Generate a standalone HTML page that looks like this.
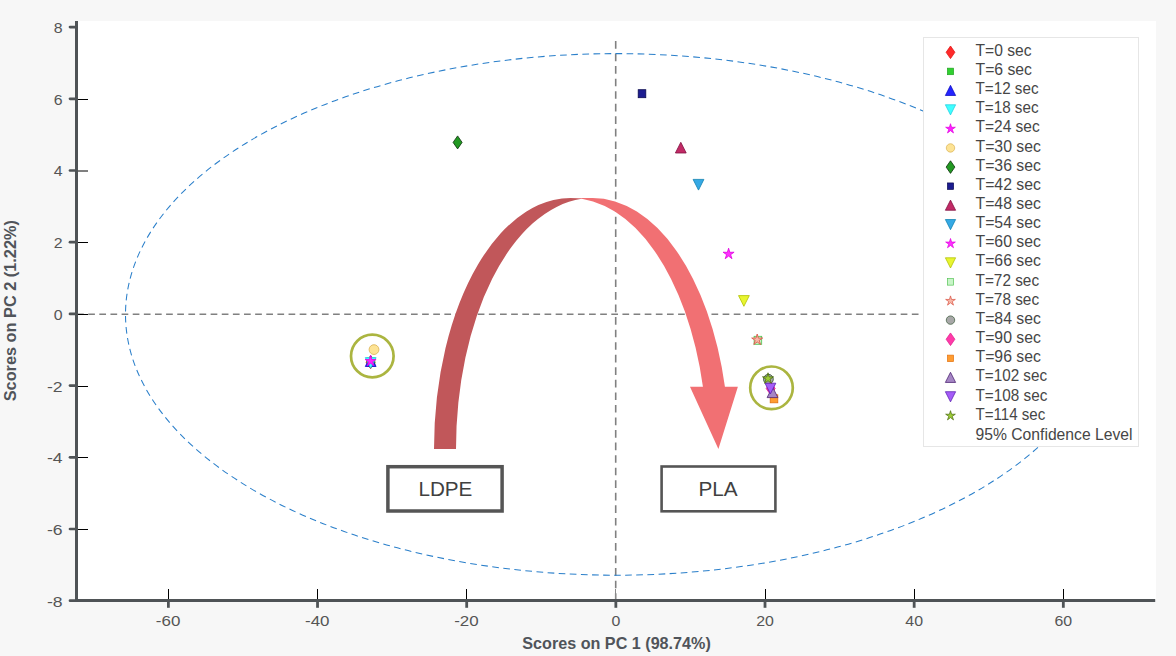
<!DOCTYPE html>
<html><head><meta charset="utf-8"><title>PCA scores</title>
<style>html,body{margin:0;padding:0;background:#f7f7f7;width:1176px;height:656px;overflow:hidden;font-family:"Liberation Sans",sans-serif}</style>
</head><body>
<svg width="1176" height="656" viewBox="0 0 1176 656" style="display:block;font-family:'Liberation Sans',sans-serif"><rect x="0" y="0" width="1176" height="656" fill="#f7f7f7"/>
<rect x="77" y="21" width="1079" height="579" fill="#ffffff"/>
<line x1="77.07" y1="314.2" x2="919" y2="314.2" stroke="#808080" stroke-width="1.6" stroke-dasharray="6.7 4.43"/>
<line x1="615.7" y1="41" x2="615.7" y2="600" stroke="#808080" stroke-width="1.6" stroke-dasharray="7.65 4.9"/>
<ellipse cx="616" cy="314.4" rx="490.5" ry="260.8" fill="none" stroke="#2a7fca" stroke-width="1.05" stroke-dasharray="6.7 4.42" stroke-dashoffset="1.5"/>
<polygon points="370.6,355.7 375.1,362.2 370.6,368.7 366.1,362.2" fill="#ff2a2a" stroke="#e01010" stroke-width="0.8"/>
<rect x="367.2" y="358" width="7.6" height="8" fill="#30d030" stroke="#20a020" stroke-width="0.8"/>
<polygon points="370.7,355.8 376.09999999999997,366.5 365.3,366.5" fill="#2424ff" stroke="#1010c0" stroke-width="0.8"/>
<polygon points="365.3,357.6 376.09999999999997,357.6 370.7,368.3" fill="#40ffff" stroke="#20d0e0" stroke-width="0.8"/>
<polygon points="370.60,355.40 371.83,359.50 376.12,359.41 372.60,361.85 374.01,365.89 370.60,363.30 367.19,365.89 368.60,361.85 365.08,359.41 369.37,359.50" fill="#ff20ff" stroke="#e000e0" stroke-width="0.8"/>
<circle cx="374" cy="349.6" r="4.9" fill="#fde394" stroke="#d9b050" stroke-width="0.8"/>
<polygon points="457.6,135.9 462.1,142.4 457.6,148.9 453.1,142.4" fill="#229922" stroke="#0a300a" stroke-width="0.8"/>
<rect x="638.2" y="89.7" width="7.6" height="8" fill="#1c1c90" stroke="#0a0a50" stroke-width="0.8"/>
<polygon points="680.8,142.3 686.1999999999999,153.0 675.4,153.0" fill="#c22a66" stroke="#801040" stroke-width="0.8"/>
<polygon points="693.1,179.4 703.9,179.4 698.5,190.1" fill="#35a9e5" stroke="#1080b0" stroke-width="0.8"/>
<polygon points="728.60,248.20 729.83,252.30 734.12,252.21 730.60,254.65 732.01,258.69 728.60,256.10 725.19,258.69 726.60,254.65 723.08,252.21 727.37,252.30" fill="#ff30ff" stroke="#e000e0" stroke-width="0.8"/>
<polygon points="738.5,295.6 749.3,295.6 743.9,306.3" fill="#e8f530" stroke="#b0c000" stroke-width="0.8"/>
<rect x="754.1" y="336.3" width="7.6" height="8" fill="#c8f5c8" stroke="#50c050" stroke-width="0.8"/>
<polygon points="757.20,334.00 758.43,338.10 762.72,338.01 759.20,340.45 760.61,344.49 757.20,341.90 753.79,344.49 755.20,340.45 751.68,338.01 755.97,338.10" fill="#f8b8a8" stroke="#d85040" stroke-width="0.8"/>
<circle cx="768.4" cy="379.2" r="4.9" fill="#a8a8a8" stroke="#305030" stroke-width="0.8"/>
<polygon points="770.7,382.0 775.2,388.5 770.7,395.0 766.2,388.5" fill="#ff3aa8" stroke="#e02090" stroke-width="0.8"/>
<rect x="770.2" y="394.8" width="7.6" height="8" fill="#ff9c30" stroke="#e07010" stroke-width="0.8"/>
<polygon points="772.5,386.9 777.9,397.59999999999997 767.1,397.59999999999997" fill="#a586c4" stroke="#4a2070" stroke-width="0.8"/>
<polygon points="765.0,383.2 775.8,383.2 770.4,393.9" fill="#a55cf8" stroke="#5a20b0" stroke-width="0.8"/>
<polygon points="768.00,372.80 769.23,376.90 773.52,376.81 770.00,379.25 771.41,383.29 768.00,380.70 764.59,383.29 766.00,379.25 762.48,376.81 766.77,376.90" fill="#9ccc34" stroke="#4a6a10" stroke-width="0.8"/>
<circle cx="372.3" cy="356" r="21.3" fill="none" stroke="#abb540" stroke-width="2.7"/>
<circle cx="771.5" cy="387.8" r="21.3" fill="none" stroke="#abb540" stroke-width="2.7"/>
<path d="M718.40,449.0 L689.98,386.70 L702.93,386.70 A136.6,251.0 0 0 0 570.60,198.0 L592.60,198.0 A136.6,251.0 0 0 1 724.93,386.70 L737.88,386.70 Z" fill="#f17073"/>
<path d="M434.0,449.0 A136.6,251.0 0 0 1 581.60,198.82 A136.6,251.0 0 0 0 456.00,449.0 Z" fill="#c1575a"/>
<rect x="387.9" y="466.7" width="114.2" height="44.3" fill="#ffffff" stroke="#555555" stroke-width="3.5"/>
<text x="418.4" y="495.5" font-size="20.5" textLength="54" lengthAdjust="spacingAndGlyphs" fill="#404040">LDPE</text>
<rect x="661.6" y="466.5" width="113.8" height="44.8" fill="#ffffff" stroke="#555555" stroke-width="2.6"/>
<text x="698.4" y="495.6" font-size="20.5" textLength="39.2" lengthAdjust="spacingAndGlyphs" fill="#404040">PLA</text>
<rect x="75" y="21" width="3" height="581" fill="#4f5356"/>
<rect x="75" y="599" width="1080.2" height="3" fill="#4f5356"/>
<line x1="70" y1="600.70" x2="76" y2="600.70" stroke="#4f5356" stroke-width="2.7" stroke-linecap="round"/>
<text x="62.6" y="606.60" font-size="15.3" text-anchor="end" textLength="15.65" lengthAdjust="spacingAndGlyphs" fill="#555">-8</text>
<line x1="70" y1="529.00" x2="76" y2="529.00" stroke="#4f5356" stroke-width="2.7" stroke-linecap="round"/>
<line x1="78" y1="529.50" x2="88" y2="529.50" stroke="#000" stroke-width="1"/>
<text x="62.6" y="534.90" font-size="15.3" text-anchor="end" textLength="15.65" lengthAdjust="spacingAndGlyphs" fill="#555">-6</text>
<line x1="70" y1="457.30" x2="76" y2="457.30" stroke="#4f5356" stroke-width="2.7" stroke-linecap="round"/>
<line x1="78" y1="457.50" x2="88" y2="457.50" stroke="#000" stroke-width="1"/>
<text x="62.6" y="463.20" font-size="15.3" text-anchor="end" textLength="15.65" lengthAdjust="spacingAndGlyphs" fill="#555">-4</text>
<line x1="70" y1="385.60" x2="76" y2="385.60" stroke="#4f5356" stroke-width="2.7" stroke-linecap="round"/>
<line x1="78" y1="386.50" x2="88" y2="386.50" stroke="#000" stroke-width="1"/>
<text x="62.6" y="391.50" font-size="15.3" text-anchor="end" textLength="15.65" lengthAdjust="spacingAndGlyphs" fill="#555">-2</text>
<line x1="70" y1="313.90" x2="76" y2="313.90" stroke="#4f5356" stroke-width="2.7" stroke-linecap="round"/>
<line x1="78" y1="314.50" x2="88" y2="314.50" stroke="#000" stroke-width="1"/>
<text x="62.6" y="319.80" font-size="15.3" text-anchor="end" textLength="8.85" lengthAdjust="spacingAndGlyphs" fill="#555">0</text>
<line x1="70" y1="242.20" x2="76" y2="242.20" stroke="#4f5356" stroke-width="2.7" stroke-linecap="round"/>
<line x1="78" y1="242.50" x2="88" y2="242.50" stroke="#000" stroke-width="1"/>
<text x="62.6" y="248.10" font-size="15.3" text-anchor="end" textLength="8.85" lengthAdjust="spacingAndGlyphs" fill="#555">2</text>
<line x1="70" y1="170.50" x2="76" y2="170.50" stroke="#4f5356" stroke-width="2.7" stroke-linecap="round"/>
<line x1="78" y1="171.00" x2="88" y2="171.00" stroke="#000" stroke-width="1"/>
<text x="62.6" y="176.40" font-size="15.3" text-anchor="end" textLength="8.85" lengthAdjust="spacingAndGlyphs" fill="#555">4</text>
<line x1="70" y1="98.80" x2="76" y2="98.80" stroke="#4f5356" stroke-width="2.7" stroke-linecap="round"/>
<line x1="78" y1="99.50" x2="88" y2="99.50" stroke="#000" stroke-width="1"/>
<text x="62.6" y="104.70" font-size="15.3" text-anchor="end" textLength="8.85" lengthAdjust="spacingAndGlyphs" fill="#555">6</text>
<line x1="70" y1="27.10" x2="76" y2="27.10" stroke="#4f5356" stroke-width="2.7" stroke-linecap="round"/>
<text x="62.6" y="33.00" font-size="15.3" text-anchor="end" textLength="8.85" lengthAdjust="spacingAndGlyphs" fill="#555">8</text>
<line x1="168.37" y1="601" x2="168.37" y2="607.8" stroke="#4f5356" stroke-width="2.8"/>
<line x1="168.50" y1="589" x2="168.50" y2="599" stroke="#000" stroke-width="1"/>
<text x="168.07" y="626.2" font-size="15.3" text-anchor="middle" textLength="24.49" lengthAdjust="spacingAndGlyphs" fill="#555">-60</text>
<line x1="317.53" y1="601" x2="317.53" y2="607.8" stroke="#4f5356" stroke-width="2.8"/>
<line x1="317.50" y1="589" x2="317.50" y2="599" stroke="#000" stroke-width="1"/>
<text x="317.23" y="626.2" font-size="15.3" text-anchor="middle" textLength="24.49" lengthAdjust="spacingAndGlyphs" fill="#555">-40</text>
<line x1="466.69" y1="601" x2="466.69" y2="607.8" stroke="#4f5356" stroke-width="2.8"/>
<line x1="466.50" y1="589" x2="466.50" y2="599" stroke="#000" stroke-width="1"/>
<text x="466.39" y="626.2" font-size="15.3" text-anchor="middle" textLength="24.49" lengthAdjust="spacingAndGlyphs" fill="#555">-20</text>
<line x1="615.85" y1="601" x2="615.85" y2="607.8" stroke="#4f5356" stroke-width="2.8"/>
<line x1="615.50" y1="589" x2="615.50" y2="599" stroke="#8a8a8a" stroke-width="1"/>
<text x="615.85" y="626.2" font-size="15.3" text-anchor="middle" textLength="8.85" lengthAdjust="spacingAndGlyphs" fill="#555">0</text>
<line x1="765.01" y1="601" x2="765.01" y2="607.8" stroke="#4f5356" stroke-width="2.8"/>
<line x1="765.50" y1="589" x2="765.50" y2="599" stroke="#000" stroke-width="1"/>
<text x="765.01" y="626.2" font-size="15.3" text-anchor="middle" textLength="17.69" lengthAdjust="spacingAndGlyphs" fill="#555">20</text>
<line x1="914.17" y1="601" x2="914.17" y2="607.8" stroke="#4f5356" stroke-width="2.8"/>
<line x1="914.50" y1="589" x2="914.50" y2="599" stroke="#000" stroke-width="1"/>
<text x="914.17" y="626.2" font-size="15.3" text-anchor="middle" textLength="17.69" lengthAdjust="spacingAndGlyphs" fill="#555">40</text>
<line x1="1063.33" y1="601" x2="1063.33" y2="607.8" stroke="#4f5356" stroke-width="2.8"/>
<line x1="1063.50" y1="589" x2="1063.50" y2="599" stroke="#000" stroke-width="1"/>
<text x="1063.33" y="626.2" font-size="15.3" text-anchor="middle" textLength="17.69" lengthAdjust="spacingAndGlyphs" fill="#555">60</text>
<text x="522.3" y="649" font-size="16.5" font-weight="bold" textLength="188.5" lengthAdjust="spacingAndGlyphs" fill="#50545a">Scores on PC 1 (98.74%)</text>
<text transform="translate(16.4,401.3) rotate(-90)" font-size="16.5" font-weight="bold" textLength="181.2" lengthAdjust="spacingAndGlyphs" fill="#50545a">Scores on PC 2 (1.22%)</text>
<rect x="923.5" y="37.5" width="215" height="409" fill="#ffffff" stroke="#e6e6e6" stroke-width="1"/>
<g transform="translate(950.5,52.30) scale(0.97) translate(-950.5,-52.30)"><polygon points="950.5,45.8 955.0,52.3 950.5,58.8 946.0,52.3" fill="#ff2a2a" stroke="#e01010" stroke-width="0.8"/></g>
<text x="975.5" y="55.70" font-size="16.5" textLength="56.0" lengthAdjust="spacingAndGlyphs" fill="#464646">T=0 sec</text>
<g transform="translate(950.5,71.43) scale(0.82) translate(-950.5,-71.43)"><rect x="946.7" y="67.43" width="7.6" height="8" fill="#30d030" stroke="#20a020" stroke-width="0.8"/></g>
<text x="975.5" y="74.86" font-size="16.5" textLength="56.5" lengthAdjust="spacingAndGlyphs" fill="#464646">T=6 sec</text>
<g transform="translate(950.5,90.56) scale(0.95) translate(-950.5,-90.56)"><polygon points="950.5,85.06 955.9,95.76 945.1,95.76" fill="#2424ff" stroke="#1010c0" stroke-width="0.8"/></g>
<text x="975.5" y="94.02" font-size="16.5" textLength="63.0" lengthAdjust="spacingAndGlyphs" fill="#464646">T=12 sec</text>
<g transform="translate(950.5,109.69) scale(0.95) translate(-950.5,-109.69)"><polygon points="945.1,104.49 955.9,104.49 950.5,115.19" fill="#40ffff" stroke="#20d0e0" stroke-width="0.8"/></g>
<text x="975.5" y="113.18" font-size="16.5" textLength="63.0" lengthAdjust="spacingAndGlyphs" fill="#464646">T=18 sec</text>
<g transform="translate(950.5,128.82) scale(0.88) translate(-950.5,-128.82)"><polygon points="950.50,123.02 951.73,127.12 956.02,127.03 952.50,129.47 953.91,133.51 950.50,130.92 947.09,133.51 948.50,129.47 944.98,127.03 949.27,127.12" fill="#ff20ff" stroke="#e000e0" stroke-width="0.8"/></g>
<text x="975.5" y="132.34" font-size="16.5" textLength="64.2" lengthAdjust="spacingAndGlyphs" fill="#464646">T=24 sec</text>
<g transform="translate(950.5,147.95) scale(0.86) translate(-950.5,-147.95)"><circle cx="950.5" cy="147.95" r="4.9" fill="#fde394" stroke="#d9b050" stroke-width="0.8"/></g>
<text x="975.5" y="151.50" font-size="16.5" textLength="65.39999999999999" lengthAdjust="spacingAndGlyphs" fill="#464646">T=30 sec</text>
<g transform="translate(950.5,167.08) scale(0.97) translate(-950.5,-167.08)"><polygon points="950.5,160.58 955.0,167.08 950.5,173.58 946.0,167.08" fill="#229922" stroke="#0a300a" stroke-width="0.8"/></g>
<text x="975.5" y="170.66" font-size="16.5" textLength="65.39999999999999" lengthAdjust="spacingAndGlyphs" fill="#464646">T=36 sec</text>
<g transform="translate(950.5,186.21) scale(0.82) translate(-950.5,-186.21)"><rect x="946.7" y="182.21" width="7.6" height="8" fill="#1c1c90" stroke="#0a0a50" stroke-width="0.8"/></g>
<text x="975.5" y="189.82" font-size="16.5" textLength="65.39999999999999" lengthAdjust="spacingAndGlyphs" fill="#464646">T=42 sec</text>
<g transform="translate(950.5,205.34) scale(0.95) translate(-950.5,-205.34)"><polygon points="950.5,199.84 955.9,210.54 945.1,210.54" fill="#c22a66" stroke="#801040" stroke-width="0.8"/></g>
<text x="975.5" y="208.98" font-size="16.5" textLength="65.39999999999999" lengthAdjust="spacingAndGlyphs" fill="#464646">T=48 sec</text>
<g transform="translate(950.5,224.47) scale(0.95) translate(-950.5,-224.47)"><polygon points="945.1,219.27 955.9,219.27 950.5,229.97" fill="#35a9e5" stroke="#1080b0" stroke-width="0.8"/></g>
<text x="975.5" y="228.14" font-size="16.5" textLength="65.39999999999999" lengthAdjust="spacingAndGlyphs" fill="#464646">T=54 sec</text>
<g transform="translate(950.5,243.60) scale(0.88) translate(-950.5,-243.60)"><polygon points="950.50,237.80 951.73,241.90 956.02,241.81 952.50,244.25 953.91,248.29 950.50,245.70 947.09,248.29 948.50,244.25 944.98,241.81 949.27,241.90" fill="#ff30ff" stroke="#e000e0" stroke-width="0.8"/></g>
<text x="975.5" y="247.30" font-size="16.5" textLength="65.39999999999999" lengthAdjust="spacingAndGlyphs" fill="#464646">T=60 sec</text>
<g transform="translate(950.5,262.73) scale(0.95) translate(-950.5,-262.73)"><polygon points="945.1,257.53000000000003 955.9,257.53000000000003 950.5,268.23" fill="#e8f530" stroke="#b0c000" stroke-width="0.8"/></g>
<text x="975.5" y="266.46" font-size="16.5" textLength="65.39999999999999" lengthAdjust="spacingAndGlyphs" fill="#464646">T=66 sec</text>
<g transform="translate(950.5,281.86) scale(0.82) translate(-950.5,-281.86)"><rect x="946.7" y="277.86" width="7.6" height="8" fill="#c8f5c8" stroke="#50c050" stroke-width="0.8"/></g>
<text x="975.5" y="285.62" font-size="16.5" textLength="63.6" lengthAdjust="spacingAndGlyphs" fill="#464646">T=72 sec</text>
<g transform="translate(950.5,300.99) scale(0.88) translate(-950.5,-300.99)"><polygon points="950.50,295.19 951.73,299.29 956.02,299.20 952.50,301.64 953.91,305.68 950.50,303.09 947.09,305.68 948.50,301.64 944.98,299.20 949.27,299.29" fill="#f8b8a8" stroke="#d85040" stroke-width="0.8"/></g>
<text x="975.5" y="304.78" font-size="16.5" textLength="63.6" lengthAdjust="spacingAndGlyphs" fill="#464646">T=78 sec</text>
<g transform="translate(950.5,320.12) scale(0.86) translate(-950.5,-320.12)"><circle cx="950.5" cy="320.12" r="4.9" fill="#a8a8a8" stroke="#305030" stroke-width="0.8"/></g>
<text x="975.5" y="323.94" font-size="16.5" textLength="65.39999999999999" lengthAdjust="spacingAndGlyphs" fill="#464646">T=84 sec</text>
<g transform="translate(950.5,339.25) scale(0.97) translate(-950.5,-339.25)"><polygon points="950.5,332.75 955.0,339.25 950.5,345.75 946.0,339.25" fill="#ff3aa8" stroke="#e02090" stroke-width="0.8"/></g>
<text x="975.5" y="343.10" font-size="16.5" textLength="65.39999999999999" lengthAdjust="spacingAndGlyphs" fill="#464646">T=90 sec</text>
<g transform="translate(950.5,358.38) scale(0.82) translate(-950.5,-358.38)"><rect x="946.7" y="354.38" width="7.6" height="8" fill="#ff9c30" stroke="#e07010" stroke-width="0.8"/></g>
<text x="975.5" y="362.26" font-size="16.5" textLength="65.39999999999999" lengthAdjust="spacingAndGlyphs" fill="#464646">T=96 sec</text>
<g transform="translate(950.5,377.51) scale(0.95) translate(-950.5,-377.51)"><polygon points="950.5,372.01 955.9,382.71 945.1,382.71" fill="#a586c4" stroke="#4a2070" stroke-width="0.8"/></g>
<text x="975.5" y="381.42" font-size="16.5" textLength="71.6" lengthAdjust="spacingAndGlyphs" fill="#464646">T=102 sec</text>
<g transform="translate(950.5,396.64) scale(0.95) translate(-950.5,-396.64)"><polygon points="945.1,391.44 955.9,391.44 950.5,402.14" fill="#a55cf8" stroke="#5a20b0" stroke-width="0.8"/></g>
<text x="975.5" y="400.58" font-size="16.5" textLength="71.8" lengthAdjust="spacingAndGlyphs" fill="#464646">T=108 sec</text>
<g transform="translate(950.5,415.77) scale(0.88) translate(-950.5,-415.77)"><polygon points="950.50,409.97 951.73,414.07 956.02,413.98 952.50,416.42 953.91,420.46 950.50,417.87 947.09,420.46 948.50,416.42 944.98,413.98 949.27,414.07" fill="#9ccc34" stroke="#4a6a10" stroke-width="0.8"/></g>
<text x="975.5" y="419.74" font-size="16.5" textLength="69.8" lengthAdjust="spacingAndGlyphs" fill="#464646">T=114 sec</text>
<text x="975.5" y="440.00" font-size="16.5" textLength="157" lengthAdjust="spacingAndGlyphs" fill="#464646">95% Confidence Level</text></svg>
</body></html>
